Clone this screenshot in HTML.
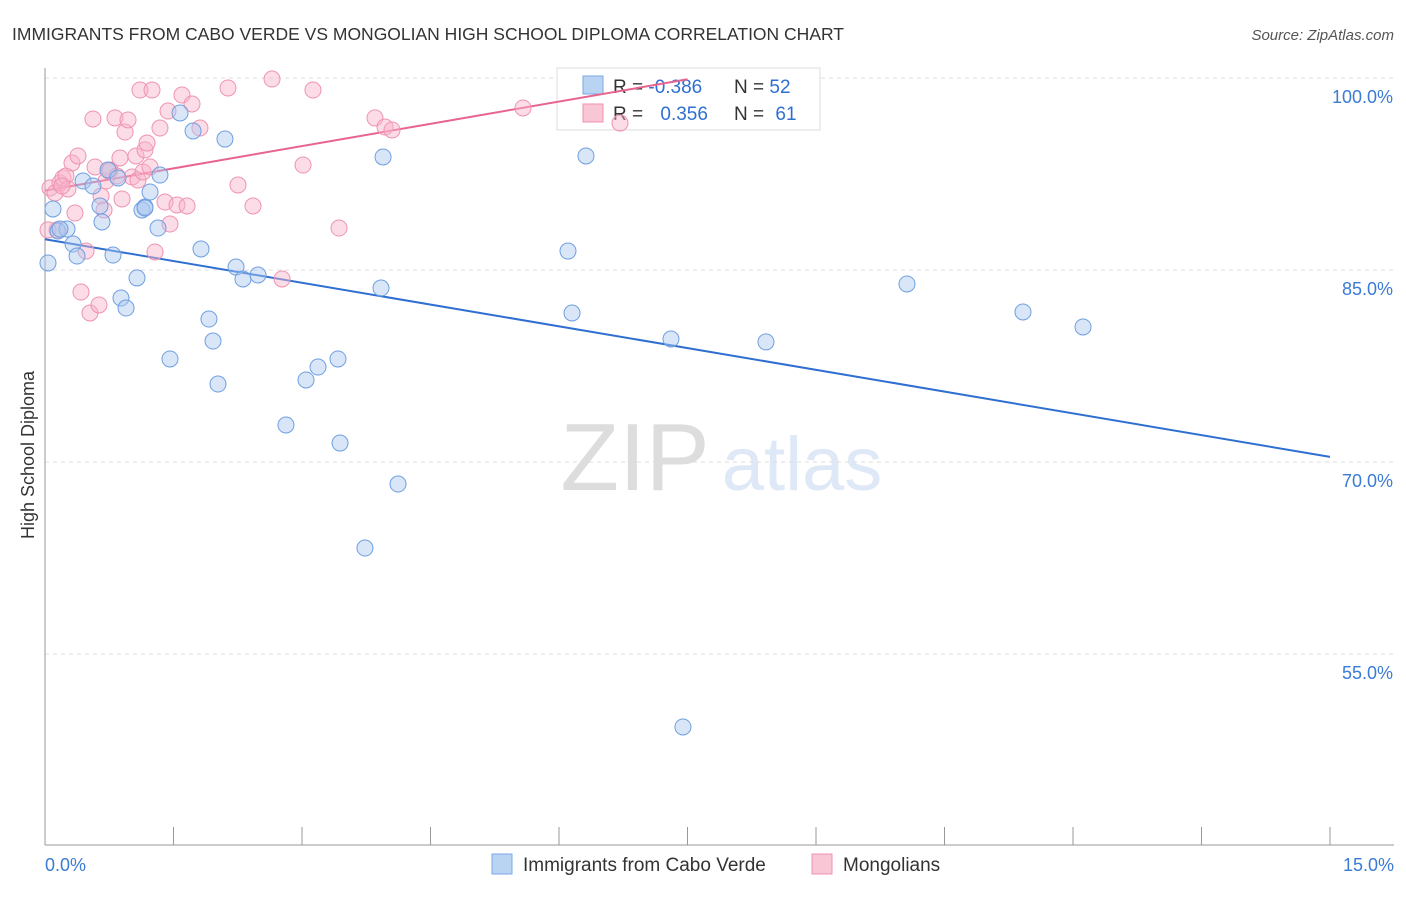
<!DOCTYPE html>
<html><head><meta charset="utf-8"><style>
body{margin:0;background:#fff;font-family:"Liberation Sans",sans-serif}
svg text{font-family:"Liberation Sans",sans-serif}
</style></head><body>
<svg id="chart" width="1406" height="892" xmlns="http://www.w3.org/2000/svg">
<text x="12" y="40" font-size="17.5" fill="#333">IMMIGRANTS FROM CABO VERDE VS MONGOLIAN HIGH SCHOOL DIPLOMA CORRELATION CHART</text>
<text x="1394" y="40" font-size="15" fill="#555" font-style="italic" text-anchor="end">Source: ZipAtlas.com</text>
<text x="34" y="455" font-size="18" fill="#333" text-anchor="middle" transform="rotate(-90 34 455)">High School Diploma</text>
<g><text x="635" y="490" font-size="96" fill="#ddd" font-family="Liberation Serif" text-anchor="middle">ZIP</text><text x="802" y="490" font-size="76" fill="#d6e3f5" text-anchor="middle" opacity="0.8">atlas</text></g>
<g id="grid"></g><g id="axes"></g>
<g>
<rect x="557" y="68" width="263" height="62" fill="#fff" stroke="#ddd"/>
<rect x="583" y="76" width="20" height="18" fill="#b9d3f3" stroke="#7aa7e3"/>
<rect x="583" y="104" width="20" height="18" fill="#f9c6d6" stroke="#ef93b0"/>
<text x="613" y="93" font-size="19" fill="#333">R = <tspan fill="#2f6fd1">-0.386</tspan></text>
<text x="734" y="93" font-size="19" fill="#333">N = <tspan fill="#2f6fd1">52</tspan></text>
<text x="613" y="120" font-size="19" fill="#333">R = <tspan fill="#2f6fd1" dx="12">0.356</tspan></text>
<text x="734" y="120" font-size="19" fill="#333">N = <tspan fill="#2f6fd1" dx="6">61</tspan></text>
</g>
<g id="lines"></g><g id="pts"></g>
<g>
<rect x="492" y="854" width="20" height="20" fill="#b9d3f3" stroke="#7aa7e3"/>
<text x="523" y="871" font-size="19" fill="#333">Immigrants from Cabo Verde</text>
<rect x="812" y="854" width="20" height="20" fill="#f9c6d6" stroke="#ef93b0"/>
<text x="843" y="871" font-size="19" fill="#333">Mongolians</text>
</g>
</svg>
<script>
const yTicks=[100,85,70,55];
const xTickLabels=["0.0%","15.0%"];
const bluePx=[[48,263],[53,209],[58,231],[67,229],[73,244],[77,256],[83,181],[93,186],[100,206],[102,222],[108,170],[113,255],[118,178],[121,298],[126,308],[137,278],[142,210],[145,207],[150,192],[158,228],[160,175],[170,359],[180,113],[193,131],[201,249],[209,319],[213,341],[218,384],[225,139],[236,267],[243,279],[258,275],[286,425],[306,380],[318,367],[338,359],[340,443],[365,548],[381,288],[383,157],[398,484],[568,251],[572,313],[586,156],[671,339],[683,727],[766,342],[907,284],[1023,312],[1083,327],[60,229],[145,208]];
const pinkPx=[[50,188],[55,193],[57,230],[60,183],[63,178],[66,176],[68,189],[72,163],[75,213],[78,156],[81,292],[86,251],[90,313],[93,119],[95,167],[99,305],[101,196],[104,210],[106,181],[110,170],[115,118],[120,158],[122,199],[125,132],[128,120],[132,177],[136,156],[138,180],[140,90],[143,172],[145,150],[147,143],[150,167],[152,90],[155,252],[160,128],[165,202],[168,111],[170,224],[177,205],[182,95],[187,206],[192,104],[200,128],[228,88],[238,185],[253,206],[272,79],[282,279],[303,165],[313,90],[339,228],[375,118],[385,127],[392,130],[523,108],[620,123],[109,171],[117,176],[48,230],[62,186]];
const blueX=bluePx.map(p=>+((p[0]-45)/1285*15).toFixed(3));
const blueY=bluePx.map(p=>+(100-(p[1]-78)/192*15).toFixed(2));
const pinkX=pinkPx.map(p=>+((p[0]-45)/1285*15).toFixed(3));
const pinkY=pinkPx.map(p=>+(100-(p[1]-78)/192*15).toFixed(2));
const blueTrend=[[0,87.4],[15,70.4]];
const pinkTrend=[[0,91.2],[7.5,99.9]];
const X=v=>45+v/15*1285, Y=v=>78+(100-v)/15*192;
const NS="http://www.w3.org/2000/svg";
function mk(t,a,p){const e=document.createElementNS(NS,t);for(const k in a)e.setAttribute(k,a[k]);p.appendChild(e);return e;}
const grid=document.getElementById('grid'),axes=document.getElementById('axes'),lines=document.getElementById('lines'),pts=document.getElementById('pts');
yTicks.forEach(v=>{
 const l=mk('line',{x1:45,x2:1394,y1:Y(v),y2:Y(v),stroke:'#ddd','stroke-dasharray':'4,4'},grid);
 
 
 const t=mk('text',{x:1393,y:Y(v)+25,'font-size':18,fill:'#3a7bd5','text-anchor':'end'},axes);
 t.textContent=v.toFixed(1)+'%';
 
 
});
mk('line',{x1:45,x2:45,y1:68,y2:845,stroke:'#999'},axes);
mk('line',{x1:45,x2:1394,y1:845,y2:845,stroke:'#999'},axes);
for(let i=0;i<=10;i++){const x=X(i*1.5);mk('line',{x1:x,x2:x,y1:827,y2:845,stroke:'#999'},axes);}
const xl0=mk('text',{x:45,y:871,'font-size':18,fill:'#3a7bd5'},axes);xl0.textContent=xTickLabels[0];


const xl1=mk('text',{x:1394,y:871,'font-size':18,fill:'#3a7bd5','text-anchor':'end'},axes);xl1.textContent=xTickLabels[1];


function dots(xs,ys,fill,stroke,name){xs.forEach((x,i)=>{const c=mk('circle',{cx:X(x),cy:Y(ys[i]),r:8,fill:fill,stroke:stroke,'stroke-width':1},pts);
 
 });}
dots(pinkX,pinkY,'rgba(248,180,202,0.45)','#ef93b0','mongolian-point');
dots(blueX,blueY,'rgba(170,200,240,0.45)','#6f9fe0','cabo-verde-point');
const bl=mk('line',{x1:X(blueTrend[0][0]),y1:Y(blueTrend[0][1]),x2:X(blueTrend[1][0]),y2:Y(blueTrend[1][1]),stroke:'#2f6fd1','stroke-width':2},lines);


const pl=mk('line',{x1:X(pinkTrend[0][0]),y1:Y(pinkTrend[0][1]),x2:X(pinkTrend[1][0]),y2:Y(pinkTrend[1][1]),stroke:'#e8648f','stroke-width':2},lines);


</script>
</body></html>
